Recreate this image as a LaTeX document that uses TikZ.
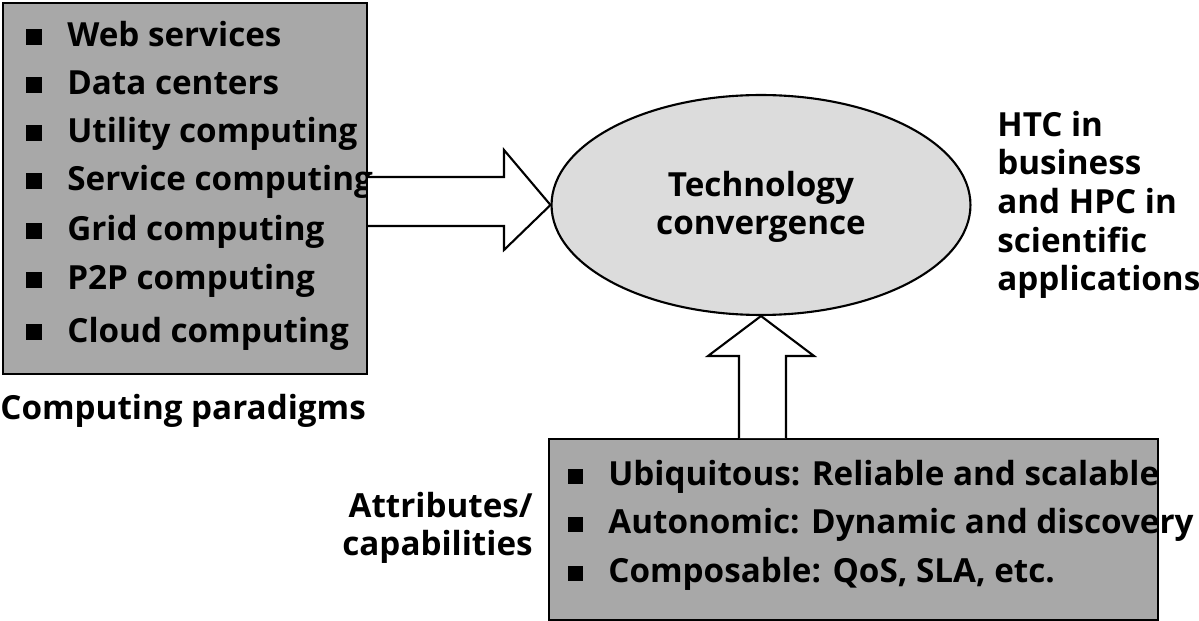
\documentclass[tikz,border=0pt]{standalone}
\usepackage{fontspec}
\setmainfont{Open Sans}
\usetikzlibrary{shapes.geometric}
\definecolor{panelgray}{HTML}{A8A8A8}
\definecolor{ovalgray}{HTML}{DCDCDC}
\begin{document}
\begin{tikzpicture}[x=0.02cm,y=-0.02cm,
  panel/.style={draw=black,line width=1.2pt,fill=panelgray,inner sep=0pt,anchor=north west},
  bul/.style={fill=black,inner sep=0pt,minimum width=0.33cm,minimum height=0.33cm},
  bulb/.style={fill=black,inner sep=0pt,minimum width=0.3cm,minimum height=0.3cm},
  item/.style={anchor=base west,inner sep=0pt,font=\fontsize{18.9pt}{22pt}\selectfont\bfseries},
  label/.style={inner sep=0pt,font=\fontsize{18.9pt}{21.6pt}\selectfont\bfseries},
  blockarrow/.style={draw=black,line width=1.2pt,fill=white,line join=miter}
]
\useasboundingbox (0,0) rectangle (1199,621);

% left panel
\node[panel,minimum width=7.28cm,minimum height=7.42cm] (para) at (2,2) {};
\foreach \i/\y/\t in {1/47/Web services,2/95/Data centers,3/143/Utility computing,4/191/Service computing,5/241/Grid computing,6/290/P2P computing,7/342/Cloud computing}{
  \node[bul] (pb\i) at (34,\y-10) {};
  \node[item] (pt\i) at (67,\y) {\t};
}
\node[label,anchor=base west] (paralbl) at (0,419) {Computing paradigms};

% ellipse
\node[ellipse,draw=black,line width=1.2pt,fill=ovalgray,minimum width=8.38cm,minimum height=4.4cm,inner sep=0pt] (tech) at (761,205) {};
\node[label,anchor=base] (tech1) at (761,197) {Technology};
\node[label,anchor=base] (tech2) at (761,235) {convergence};

% right text
\node[label,anchor=base west] (htc1) at (997,137) {HTC in};
\node[label,anchor=base west] (htc2) at (997,175) {business};
\node[label,anchor=base west] (htc3) at (997,214) {and HPC in};
\node[label,anchor=base west] (htc4) at (997,253) {scientific};
\node[label,anchor=base west] (htc5) at (997,291) {applications};

% bottom panel
\node[panel,minimum width=12.18cm,minimum height=3.62cm] (attr) at (548,438) {};
\foreach \i/\y/\t in {1/485/Ubiquitous: Reliable and scalable,2/533/Autonomic: Dynamic and discovery,3/582/Composable: QoS{,} SLA{,} etc.}{
  \node[bulb] (ab\i) at (575,\y-9) {};
  \node[item] (at\i) at (608,\y) {\t};
}
\node[label,anchor=base east] (attrl1) at (533,517) {Attributes/};
\node[label,anchor=base east] (attrl2) at (533,555) {capabilities};

% right block arrow
\draw[blockarrow] (para.east |- 0,177) -- (504,177) -- (504,150) -- (tech.west) -- (504,250) -- (504,226) -- (para.east |- 0,226);
% up block arrow
\draw[blockarrow] (739,0 |- attr.north) -- (739,356) -- (708,356) -- (tech.south) -- (814,356) -- (786,356) -- (786,0 |- attr.north);
\end{tikzpicture}
\end{document}
